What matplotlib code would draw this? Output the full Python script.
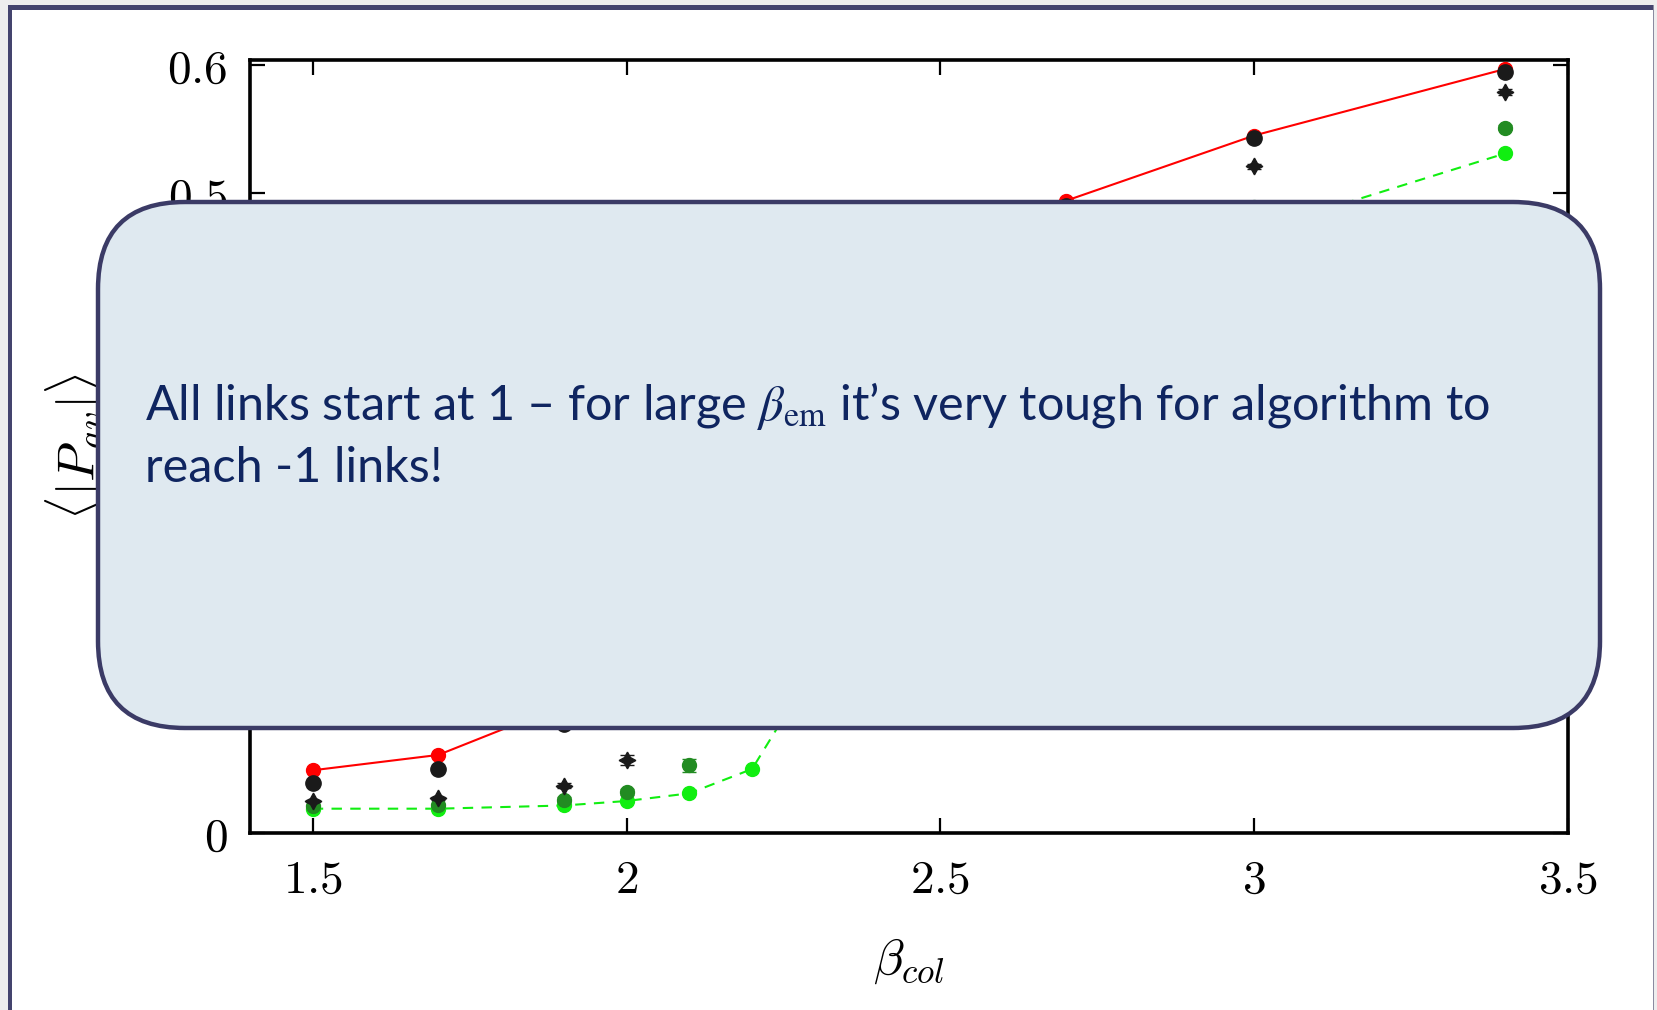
import matplotlib
matplotlib.use("Agg")
import matplotlib.pyplot as plt
from matplotlib.patches import Rectangle, FancyBboxPatch
from matplotlib.ticker import FixedLocator, FixedFormatter

plt.rcParams['mathtext.fontset'] = 'cm'

# Datos (los puntos tapados por el recuadro son estimados)
x_red = [1.5, 1.7, 1.9, 2.0, 2.1, 2.2, 2.5, 2.7, 3.0, 3.4]
y_red = [0.049, 0.061, 0.100, 0.140, 0.190, 0.250, 0.400, 0.494, 0.545, 0.597]

x_blk = [1.5, 1.7, 1.9, 2.0, 2.7, 3.0, 3.4]
y_blk = [0.039, 0.050, 0.085, 0.120, 0.490, 0.543, 0.595]

x_dia = [1.5, 1.7, 1.9, 2.0, 3.0, 3.4]
y_dia = [0.025, 0.027, 0.037, 0.057, 0.521, 0.579]
e_dia = [0.001, 0.001, 0.002, 0.004, 0.002, 0.002]

x_dgr = [1.5, 1.7, 1.9, 2.0, 2.1, 3.0, 3.4]
y_dgr = [0.021, 0.022, 0.026, 0.032, 0.053, 0.489, 0.551]
e_dgr = [0.001, 0.001, 0.002, 0.002, 0.005, 0.002, 0.002]

x_lgr = [1.5, 1.7, 1.9, 2.0, 2.1, 2.2, 2.3, 2.5, 2.7, 3.0, 3.4]
y_lgr = [0.019, 0.019, 0.0215, 0.025, 0.031, 0.050, 0.130, 0.330, 0.420, 0.470, 0.531]

x_ticks = [1.5, 2.0, 2.5, 3.0, 3.5]
x_labels = ['$1.5$', '$2$', '$2.5$', '$3$', '$3.5$']
y_ticks = [0.0, 0.1, 0.2, 0.3, 0.4, 0.5, 0.6]
y_labels = ['$0$', '$0.1$', '$0.2$', '$0.3$', '$0.4$', '$0.5$', '$0.6$']

W, H = 1658, 1010
fig = plt.figure(figsize=(W / 100, H / 100), dpi=100)
fig.patch.set_facecolor('#eeeeee')

# Marco de la diapositiva
navy = '#44446e'
fig.add_artist(Rectangle((8 / W, 0), (1654 - 8) / W, (H - 5) / H,
                         transform=fig.transFigure, facecolor='white',
                         edgecolor='none', zorder=0))
fig.add_artist(Rectangle((8 / W, 0), 4.5 / W, (H - 5) / H,
                         transform=fig.transFigure, facecolor=navy,
                         edgecolor='none', zorder=1))
fig.add_artist(Rectangle((8 / W, (H - 10) / H), (1654 - 8) / W, 5 / H,
                         transform=fig.transFigure, facecolor=navy,
                         edgecolor='none', zorder=1))
fig.add_artist(Rectangle((1653 / W, 0), 1.5 / W, (H - 5) / H,
                         transform=fig.transFigure, facecolor='#8a8aa0',
                         edgecolor='none', zorder=1))

ax = fig.add_axes([250 / W, (H - 833) / H, (1568 - 250) / W, (833 - 60) / H])
ax.set_facecolor('none')

ax.plot(x_red, y_red, '-', color='#ff0000', lw=1.5, marker='o', ms=10, zorder=3)
ax.plot(x_blk, y_blk, 'o', color='#1a1a1a', ms=11, zorder=4)
ax.errorbar(x_dia, y_dia, yerr=e_dia, fmt='none', ecolor='#1a1a1a',
            elinewidth=1.5, capsize=5, zorder=4)
ax.plot(x_dia, y_dia, ls='none', marker=(4, 1, 0), color='#1a1a1a', ms=12, zorder=4)
ax.errorbar(x_dgr, y_dgr, yerr=e_dgr, fmt='o', color='#228b22', ms=10,
            elinewidth=1.5, capsize=5, zorder=3)
ax.plot(x_lgr, y_lgr, '--', color='#11ee11', lw=1.5, dashes=(5, 4),
        marker='o', ms=10, zorder=3)

ax.set_xlim(1.4, 3.5)
ax.set_ylim(0, 0.604)
ax.xaxis.set_major_locator(FixedLocator(x_ticks))
ax.xaxis.set_major_formatter(FixedFormatter(x_labels))
ax.yaxis.set_major_locator(FixedLocator(y_ticks))
ax.yaxis.set_major_formatter(FixedFormatter(y_labels))
ax.tick_params(direction='in', length=11, width=1.6, top=True, right=True,
               labelsize=34, pad=16)
ax.tick_params(axis='x', pad=18)
for s in ax.spines.values():
    s.set_linewidth(2.6)

ax.set_xlabel(r'$\beta_{col}$', fontsize=36, labelpad=24)
ax.set_ylabel(r'$\langle|P_{av}|\rangle$', fontsize=37, labelpad=40)

# Recuadro con el comentario
box = FancyBboxPatch((0.98, 2.82), 15.02, 5.26,
                     boxstyle='round,pad=0,rounding_size=0.87',
                     transform=fig.dpi_scale_trans, facecolor='#dfe9f0',
                     edgecolor='#3b3b66', linewidth=3.2, zorder=10)
fig.add_artist(box)

txt_color = '#0f2560'
fig.text(145 / W, (H - 420) / H,
         'All links start at 1 \u2013 for large $\\beta_{\\mathrm{em}}$ it\u2019s very tough for algorithm to',
         fontsize=35, family='Lato', color=txt_color, va='baseline',
         math_fontfamily='stix', zorder=11)
fig.text(145 / W, (H - 482) / H, 'reach -1 links!',
         fontsize=35, family='Lato', color=txt_color, va='baseline', zorder=11)

fig.savefig('out.png', dpi=100, facecolor=fig.get_facecolor())
